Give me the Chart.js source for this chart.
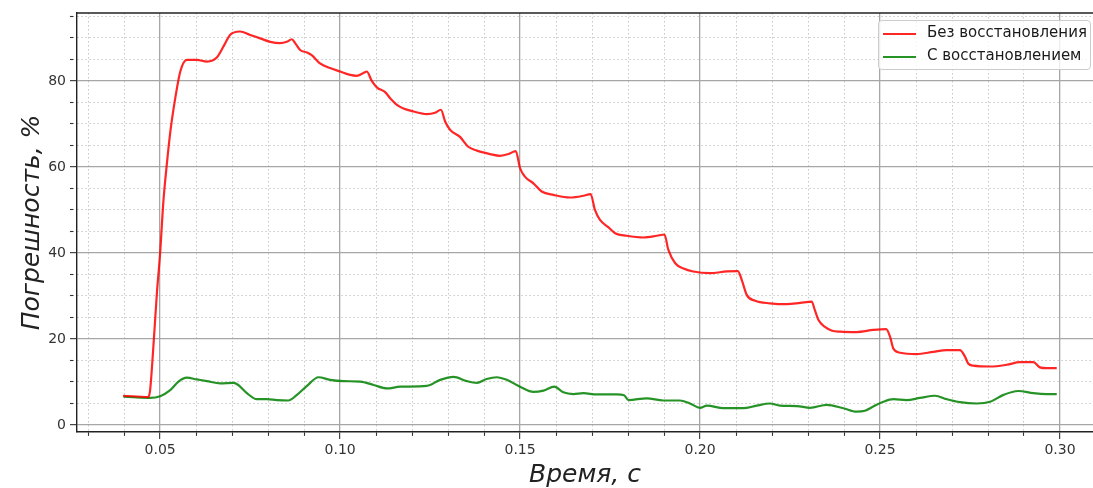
<!DOCTYPE html>
<html>
<head>
<meta charset="utf-8">
<script src="https://cdn.jsdelivr.net/npm/chart.js@4.4.1/dist/chart.umd.min.js"></script>
<style>
html,body{margin:0;padding:0;background:#fff;overflow:hidden}
#wrap{position:relative;width:1093px;height:488px}
#legend{position:absolute;left:878px;top:20px;width:213px;height:50px;box-sizing:border-box;border:1px solid #cccccc;border-radius:4px;background:rgba(255,255,255,0.8);font-family:"DejaVu Sans";font-size:15px;color:#1a1a1a}
.sw{position:absolute;left:4px;width:33px;height:2px}
.lb{position:absolute;left:48px;line-height:18px;white-space:nowrap}
</style>
</head>
<body>
<div id="wrap">
<canvas id="c" width="1093" height="488"></canvas>
<div id="legend"></div>
</div>
<script>
// ---- data ----
const seriesNames = ["Без восстановления", "С восстановлением"];
const redT = [0.0397,0.0467,0.0472,0.0480,0.0491,0.0500,0.0509,0.0519,0.0528,0.0542,0.0556,0.0574,0.0602,0.0630,0.0658,0.0681,0.0694,0.0722,0.0750,0.0778,0.0806,0.0833,0.0852,0.0866,0.0875,0.0889,0.0908,0.0921,0.0944,0.0972,0.1000,0.1028,0.1046,0.1066,0.1074,0.1088,0.1102,0.1125,0.1139,0.1160,0.1176,0.1204,0.1241,0.1264,0.1280,0.1292,0.1306,0.1333,0.1356,0.1380,0.1417,0.1444,0.1468,0.1488,0.1500,0.1514,0.1537,0.1560,0.1593,0.1639,0.1676,0.1696,0.1708,0.1722,0.1745,0.1764,0.1796,0.1843,0.1880,0.1901,0.1912,0.1931,0.1954,0.1981,0.2028,0.2074,0.2105,0.2116,0.2130,0.2153,0.2194,0.2241,0.2278,0.2310,0.2319,0.2329,0.2347,0.2367,0.2389,0.2435,0.2481,0.2517,0.2528,0.2537,0.2556,0.2602,0.2648,0.2685,0.2722,0.2736,0.2745,0.2759,0.2806,0.2852,0.2889,0.2926,0.2944,0.2963,0.2991];
const redV = [6.8,6.5,8.0,16.7,30.7,40.0,52.0,61.0,68.0,76.0,82.2,84.9,84.9,84.5,85.5,88.8,90.7,91.5,90.7,89.9,89.1,88.8,89.1,89.7,88.8,87.2,86.6,86.0,84.1,83.0,82.2,81.4,81.2,81.9,82.2,80.0,78.5,77.4,76.0,74.3,73.6,72.9,72.3,72.6,73.3,70.5,68.6,67.0,64.7,63.8,63.0,62.6,63.0,63.7,59.7,57.7,56.2,54.3,53.5,52.9,53.3,53.7,50.0,47.7,46.0,44.6,44.0,43.6,44.0,44.3,40.7,37.6,36.4,35.7,35.3,35.7,35.8,33.7,30.2,28.9,28.3,28.1,28.4,28.7,26.7,24.4,22.8,21.9,21.7,21.6,22.1,22.3,20.5,17.8,16.8,16.5,17.0,17.4,17.4,15.9,14.3,13.8,13.6,14.0,14.6,14.6,13.4,13.2,13.2];
const greenT = [0.0398,0.0435,0.0472,0.0500,0.0528,0.0551,0.0574,0.0602,0.0630,0.0667,0.0704,0.0717,0.0741,0.0769,0.0796,0.0824,0.0856,0.0880,0.0908,0.0940,0.0972,0.1009,0.1056,0.1093,0.1130,0.1167,0.1241,0.1278,0.1315,0.1352,0.1380,0.1407,0.1435,0.1463,0.1500,0.1537,0.1565,0.1595,0.1620,0.1648,0.1676,0.1713,0.1769,0.1789,0.1801,0.1852,0.1898,0.1944,0.1972,0.2000,0.2019,0.2065,0.2120,0.2157,0.2194,0.2222,0.2269,0.2306,0.2352,0.2398,0.2435,0.2458,0.2481,0.2509,0.2537,0.2574,0.2611,0.2653,0.2685,0.2722,0.2769,0.2806,0.2843,0.2884,0.2926,0.2963,0.2991];
const greenV = [6.6,6.4,6.3,6.7,8.1,10.1,11.0,10.6,10.2,9.7,9.8,9.3,7.4,6.0,6.0,5.8,5.7,7.0,9.1,11.1,10.5,10.2,10.1,9.3,8.5,8.9,9.1,10.5,11.2,10.2,9.8,10.7,11.1,10.5,8.9,7.7,8.0,8.9,7.6,7.2,7.4,7.1,7.1,6.9,5.8,6.2,5.7,5.7,5.0,4.0,4.5,3.9,3.9,4.5,5.0,4.5,4.4,4.0,4.7,3.9,3.1,3.3,4.3,5.4,6.0,5.8,6.3,6.8,6.0,5.3,5.0,5.4,7.0,7.9,7.4,7.2,7.2];
const xTickValues = [0.03,0.04,0.05,0.06,0.07,0.08,0.09,0.10,0.11,0.12,0.13,0.14,0.15,0.16,0.17,0.18,0.19,0.20,0.21,0.22,0.23,0.24,0.25,0.26,0.27,0.28,0.29,0.30];
const yTickValues = [0,5,10,15,20,25,30,35,40,45,50,55,60,65,70,75,80,85,90,95];
const xTitle = "Время, с";
const yTitle = "Погрешность, %";

const isMajorX = v => Math.round(v * 100) % 5 === 0;
const isMajorY = v => Math.round(v) % 20 === 0;

const frame = {
  id: 'frame',
  afterDraw(chart) {
    const {ctx, chartArea: a} = chart;
    ctx.save();
    ctx.strokeStyle = '#222';
    ctx.lineWidth = 1.4;
    ctx.beginPath();
    ctx.moveTo(a.left, a.top);
    ctx.lineTo(a.right, a.top);
    ctx.stroke();
    ctx.restore();
  }
};

const tickFont = {family: 'DejaVu Sans', size: 14};
const titleFont = {family: 'DejaVu Sans', size: 25, style: 'italic', lineHeight: 1};

const chart = new Chart(document.getElementById('c'), {
  type: 'line',
  data: {
    datasets: [
      {label: seriesNames[0], data: redT.map((t, i) => ({x: t, y: redV[i]})), borderColor: 'rgba(255,0,0,0.85)', borderWidth: 2.2, pointRadius: 0, cubicInterpolationMode: 'monotone', fill: false},
      {label: seriesNames[1], data: greenT.map((t, i) => ({x: t, y: greenV[i]})), borderColor: 'rgba(0,128,0,0.85)', borderWidth: 2.2, pointRadius: 0, cubicInterpolationMode: 'monotone', fill: false}
    ]
  },
  options: {
    responsive: false,
    animation: false,
    devicePixelRatio: 1,
    layout: {padding: {top: 13, right: 0, left: 0, bottom: 0}},
    plugins: {legend: {display: false}, tooltip: {enabled: false}},
    scales: {
      x: {
        type: 'linear',
        min: 0.0269,
        max: 0.30917,
        afterBuildTicks: s => { s.ticks = xTickValues.map(v => ({value: v})); },
        afterFit: s => { s.height = 56; },
        ticks: {
          autoSkip: false, maxRotation: 0, font: tickFont, color: '#333', padding: 3,
          callback: v => isMajorX(v) ? v.toFixed(2) : ''
        },
        grid: {
          color: c => (c.tick && isMajorX(c.tick.value)) ? '#a6a6a6' : '#c8c8c8',
          lineWidth: c => (c.tick && isMajorX(c.tick.value)) ? 1.3 : 1,
          tickColor: '#333', tickLength: 7, tickWidth: 1.1,
          tickBorderDash: c => (c.tick && isMajorX(c.tick.value)) ? [] : [3.5, 20]
        },
        border: {display: true, color: '#222', width: 1.4, dash: c => (c.tick && !isMajorX(c.tick.value)) ? [1.5, 2.5] : []},
        title: {display: true, text: xTitle, font: titleFont, color: '#222', padding: {top: 0, bottom: 0.5}}
      },
      y: {
        type: 'linear',
        min: -1.63,
        max: 95.8,
        afterBuildTicks: s => { s.ticks = yTickValues.map(v => ({value: v})); },
        afterFit: s => { s.width = 77; },
        ticks: {
          autoSkip: false, font: tickFont, color: '#333', padding: 4,
          callback: v => isMajorY(v) ? String(v) : ''
        },
        grid: {
          color: c => (c.tick && isMajorY(c.tick.value)) ? '#a6a6a6' : '#c8c8c8',
          lineWidth: c => (c.tick && isMajorY(c.tick.value)) ? 1.3 : 1,
          tickColor: '#333', tickLength: 7, tickWidth: 1.1,
          tickBorderDash: c => (c.tick && isMajorY(c.tick.value)) ? [] : [3.5, 20]
        },
        border: {display: true, color: '#222', width: 1.4, dash: c => (c.tick && !isMajorY(c.tick.value)) ? [1.5, 2.5] : []},
        title: {display: true, text: yTitle, font: titleFont, color: '#222', padding: {top: 19.5, bottom: 0}}
      }
    }
  },
  plugins: [frame]
});

// HTML legend built from the chart's datasets
const lg = document.getElementById('legend');
chart.data.datasets.forEach((ds, i) => {
  const sw = document.createElement('div');
  sw.className = 'sw';
  sw.style.top = (12 + i * 23) + 'px';
  sw.style.background = ds.borderColor;
  lg.appendChild(sw);
  const lb = document.createElement('div');
  lb.className = 'lb';
  lb.style.top = (2 + i * 23) + 'px';
  lb.textContent = ds.label;
  lg.appendChild(lb);
});
</script>
</body>
</html>
